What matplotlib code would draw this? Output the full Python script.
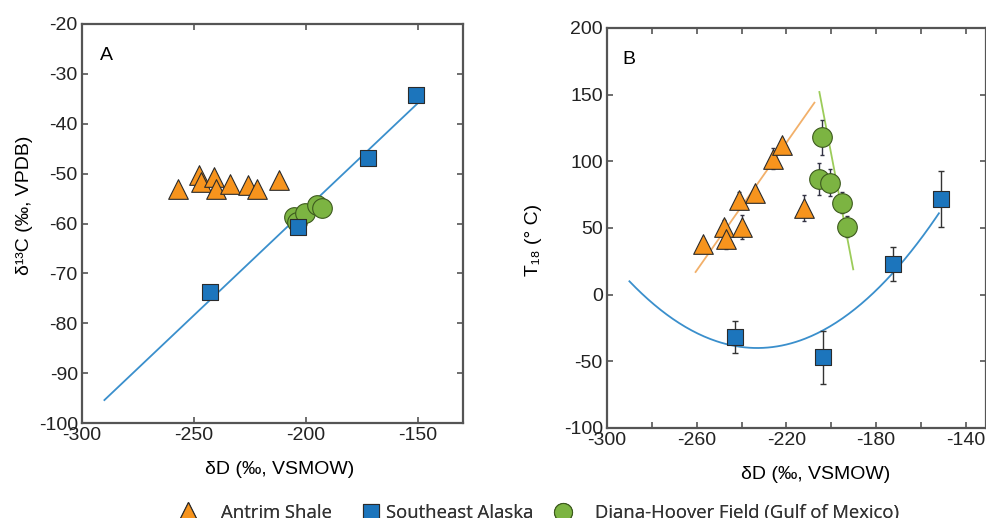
import numpy as np
import matplotlib
matplotlib.use("Agg")
import matplotlib.pyplot as plt
from matplotlib.lines import Line2D
from matplotlib.ticker import MultipleLocator

# Antrim Shale (triangles)
antrim_dD = [-257, -248, -247, -241, -240, -234, -226, -222, -212]
antrim_d13C = [-53.0, -50.3, -51.6, -50.6, -53.0, -52.0, -52.3, -53.0, -51.2]
antrim_T = [38, 51, 42, 71, 51, 76, 102, 112, 65]
antrim_Terr = [4, 5, 8, 6, 9, 5, 8, 5, 10]

# Southeast Alaska (squares)
sa_dD = [-243.0, -203.5, -172.5, -151.0]
sa_d13C = [-73.8, -60.8, -46.8, -34.2]
sa_T = [-32, -47, 23, 72]
sa_Terr = [12, 20, 13, 21]

# Diana-Hoover Field (circles)
dh_dD = [-205.3, -204.0, -200.4, -195.1, -192.9]
dh_d13C = [-58.6, -59.6, -57.8, -56.2, -56.8]
dh_T = [87, 118, 84, 69, 51]
dh_Terr = [12, 13, 10, 8, 8]

# trend lines
antrim_line_dD = [-260.5, -207.5]
antrim_line_T = [17, 144]
dh_line_dD = [-205.3, -190.2]
dh_line_T = [152, 19]
sa_fit_range = [-290, -148]
# panel B Alaska curve: T = a*(dD - x0)**2 + y0
sa_curve_a, sa_curve_x0, sa_curve_y0 = 0.0154, -233.0, -40.0
sa_curve_range = [-290, -152]

orange = "#f7941d"
blue = "#1c75bc"
green = "#7cb442"
edge = "#2b2b2b"
spine_c = "#555555"

plt.rcParams["font.family"] = ["Liberation Sans", "DejaVu Sans"]
plt.rcParams["axes.unicode_minus"] = False

fig = plt.figure(figsize=(9.86, 5.18), dpi=100)
W, H = 986, 518
axA = fig.add_axes([82 / W, (H - 423) / H, 381 / W, 399 / H])
axB = fig.add_axes([607 / W, (H - 428) / H, 379 / W, 400 / H])

tri = dict(marker="^", s=200, c=orange, edgecolors=edge, linewidths=0.8, zorder=4)
sq = dict(marker="s", s=140, c=blue, edgecolors=edge, linewidths=0.8, zorder=5)
circ = dict(marker="o", s=200, c=green, edgecolors="#3d5a1e", linewidths=0.8, zorder=4)

# ---- panel A
p = np.polyfit(sa_dD, sa_d13C, 1)
xa = np.array(sa_fit_range)
axA.plot(xa, np.polyval(p, xa), color="#3a8fcc", lw=1.3, zorder=2)
axA.scatter(antrim_dD, antrim_d13C, **tri)
axA.scatter(dh_dD, dh_d13C, **circ)
axA.scatter(sa_dD, sa_d13C, **sq)
axA.set_xlim(-300, -130)
axA.set_ylim(-100, -20)
axA.set_xticks([-300, -250, -200, -150])
axA.yaxis.set_major_locator(MultipleLocator(10))
axA.set_xlabel("δD (‰, VSMOW)", fontsize=14)
axA.set_ylabel("δ¹³C (‰, VPDB)", fontsize=14)
axA.xaxis.set_label_coords(0.52, -0.095)
axA.yaxis.set_label_coords(-0.128, 0.545)
axA.text(0.048, 0.92, "A", transform=axA.transAxes, fontsize=14, va="center")

# ---- panel B
xb = np.linspace(sa_curve_range[0], sa_curve_range[1], 200)
axB.plot(xb, sa_curve_a * (xb - sa_curve_x0) ** 2 + sa_curve_y0,
         color="#3a8fcc", lw=1.3, zorder=2)
axB.plot(antrim_line_dD, antrim_line_T, color="#f2b06a", lw=1.3, zorder=2)
axB.plot(dh_line_dD, dh_line_T, color="#9ccc5a", lw=1.3, zorder=2)
axB.errorbar(antrim_dD, antrim_T, yerr=antrim_Terr, fmt="none", ecolor="#333344",
             elinewidth=1.0, capsize=1.5, zorder=3)
axB.errorbar(dh_dD, dh_T, yerr=dh_Terr, fmt="none", ecolor="#333344",
             elinewidth=1.0, capsize=1.5, zorder=3)
axB.errorbar(sa_dD, sa_T, yerr=sa_Terr, fmt="none", ecolor="#333333",
             elinewidth=1.0, capsize=2.5, zorder=3)
axB.scatter(antrim_dD, antrim_T, **tri)
axB.scatter(dh_dD, dh_T, **circ)
axB.scatter(sa_dD, sa_T, **sq)
axB.set_xlim(-300, -131)
axB.set_ylim(-100, 200)
axB.set_xticks([-300, -260, -220, -180, -140])
axB.xaxis.set_minor_locator(MultipleLocator(20))
axB.yaxis.set_major_locator(MultipleLocator(50))
axB.set_xlabel("δD (‰, VSMOW)", fontsize=14)
axB.set_ylabel("T₁₈ (° C)", fontsize=14)
axB.xaxis.set_label_coords(0.55, -0.095)
axB.yaxis.set_label_coords(-0.172, 0.47)
axB.text(0.04, 0.92, "B", transform=axB.transAxes, fontsize=14, va="center")

for ax in (axA, axB):
    for s in ax.spines.values():
        s.set_color(spine_c)
        s.set_linewidth(1.6)
    ax.tick_params(which="both", direction="in", top=True, right=True,
                   color=spine_c, labelsize=14, labelcolor="#222222", pad=3)
    ax.tick_params(which="major", length=4, width=1.2)
    ax.tick_params(which="minor", length=4, width=1.2)

# ---- legend along the bottom
items = [
    (Line2D([], [], marker="^", ls="none", ms=15, mfc=orange, mec=edge, mew=0.8),
     "Antrim Shale", 179, 1.3),
    (Line2D([], [], marker="s", ls="none", ms=11, mfc=blue, mec=edge, mew=0.8),
     "Southeast Alaska", 362, 0.3),
    (Line2D([], [], marker="o", ls="none", ms=13, mfc=green, mec="#3d5a1e", mew=0.8),
     "Diana-Hoover Field (Gulf of Mexico)", 554, 1.2),
]
for h, lab, x0, pad in items:
    leg = fig.legend([h], [lab], loc="center left", bbox_to_anchor=(x0 / W, 5 / H),
                     frameon=False, handlelength=1.0, handletextpad=pad,
                     borderpad=0, borderaxespad=0,
                     prop={"family": ["Open Sans", "DejaVu Sans"], "size": 13.3})
    leg.get_texts()[0].set_color("#333333")
    fig.add_artist(leg)

fig.savefig("out.png", dpi=100)
